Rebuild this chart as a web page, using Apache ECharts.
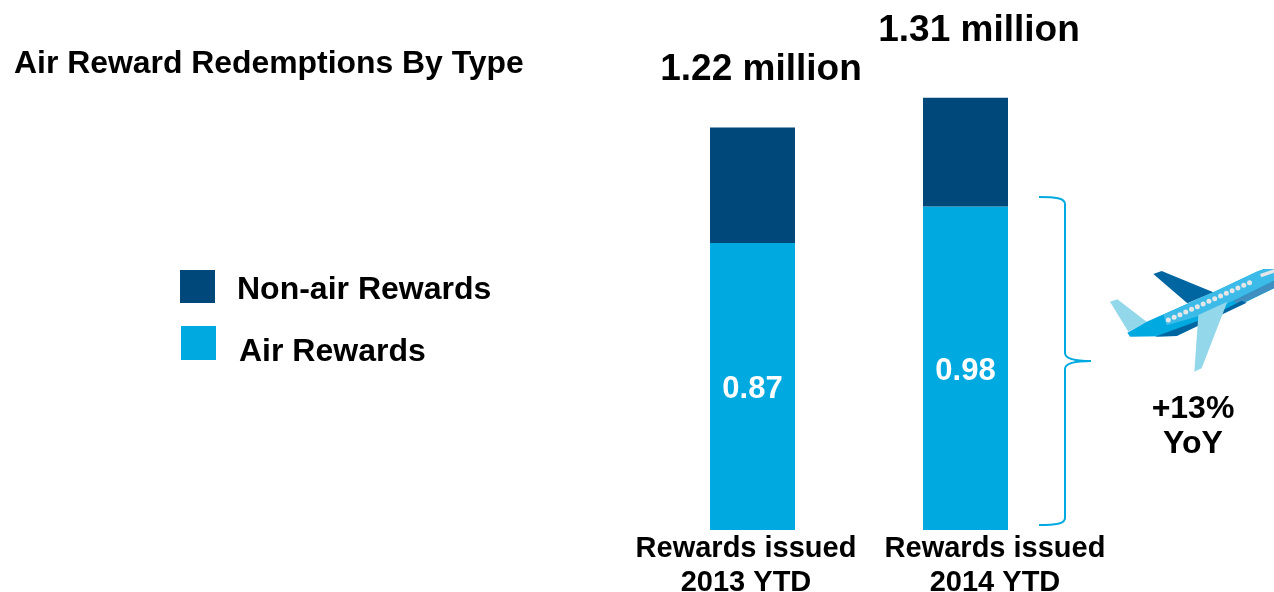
<!DOCTYPE html>
<html>
<head>
<meta charset="utf-8">
<title>Air Reward Redemptions By Type</title>
<script src="https://cdn.jsdelivr.net/npm/echarts@6/dist/echarts.min.js"></script>
<style>
  html, body { margin: 0; padding: 0; background: #fff; }
  #chart { width: 1274px; height: 592px; }
</style>
</head>
<body>
<div id="chart"></div>
<script>
// values (millions)
const categories = ['Rewards issued\n2013 YTD', 'Rewards issued\n2014 YTD'];
const airRewards = [0.87, 0.98];
const nonAirRewards = [0.35, 0.33];
const totalLabels = ['1.22 million', '1.31 million'];

const FONT = '"Liberation Sans", Arial, sans-serif';
const LIGHT = '#00a9e0';
const DARK = '#00477a';
const PALE = '#93d7ea';

// plane drawn in 3x crop coordinates, scaled down by its group
const planeWindows = [];
for (let i = 0; i < 15; i++) {
  planeWindows.push({
    type: 'circle',
    shape: { cx: 205 + i * 17.4, cy: 180 - i * 8, r: 7.5 },
    style: { fill: '#e4e6e8' }
  });
}

function poly(points, fill) {
  return { type: 'polygon', shape: { points: points }, style: { fill: fill } };
}

function braceCurve(x1, y1, cpx1, cpy1, cpx2, cpy2, x2, y2) {
  return {
    type: 'bezierCurve',
    shape: { x1: x1, y1: y1, cpx1: cpx1, cpy1: cpy1, cpx2: cpx2, cpy2: cpy2, x2: x2, y2: y2 },
    style: { fill: null, stroke: LIGHT, lineWidth: 2 }
  };
}

function braceLine(x1, y1, x2, y2) {
  return {
    type: 'line',
    shape: { x1: x1, y1: y1, x2: x2, y2: y2 },
    style: { stroke: LIGHT, lineWidth: 2 }
  };
}

// legend text sits lower than its swatch, the rich padding pushes it down
function legendText(topPad, leftPad) {
  return {
    rich: {
      a: {
        fontFamily: FONT,
        fontSize: 32,
        fontWeight: 'bold',
        color: '#000',
        padding: [topPad, 0, 0, leftPad]
      }
    }
  };
}

const chart = echarts.init(document.getElementById('chart'));

chart.setOption({
  animation: false,
  title: {
    text: 'Air Reward Redemptions By Type',
    left: 14,
    top: 48,
    padding: 0,
    textStyle: { fontFamily: FONT, fontSize: 31.9, fontWeight: 'bold', color: '#000' }
  },
  legend: [
    {
      data: ['Non-air Rewards'],
      left: 180,
      top: 270,
      padding: 0,
      icon: 'rect',
      itemWidth: 35,
      itemHeight: 33,
      itemGap: 0,
      selectedMode: false,
      formatter: '{a|{name}}',
      textStyle: legendText(8, 17)
    },
    {
      data: ['Air Rewards'],
      left: 181,
      top: 326,
      padding: 0,
      icon: 'rect',
      itemWidth: 35,
      itemHeight: 34,
      itemGap: 0,
      selectedMode: false,
      formatter: '{a|{name}}',
      textStyle: legendText(18, 18)
    }
  ],
  grid: { left: 646, width: 426, top: 2, height: 528, outerBoundsMode: 'none' },
  xAxis: {
    type: 'category',
    data: [
      { value: categories[0], textStyle: { padding: [0, 13, 0, 0] } },
      { value: categories[1], textStyle: { padding: [0, 0, 0, 59] } }
    ],
    axisLine: { show: false },
    axisTick: { show: false },
    axisLabel: {
      margin: 2,
      interval: 0,
      fontFamily: FONT,
      fontSize: 29,
      fontWeight: 'bold',
      color: '#000',
      lineHeight: 34
    }
  },
  yAxis: { type: 'value', min: 0, max: 1.6, show: false },
  series: [
    {
      name: 'Air Rewards',
      type: 'bar',
      stack: 'total',
      barWidth: 85,
      itemStyle: { color: LIGHT },
      label: {
        show: true,
        position: 'inside',
        offset: [0, 3],
        formatter: '{c}',
        fontFamily: FONT,
        fontSize: 31,
        fontWeight: 'bold',
        color: '#fff'
      },
      data: airRewards
    },
    {
      name: 'Non-air Rewards',
      type: 'bar',
      stack: 'total',
      barWidth: 85,
      itemStyle: { color: DARK },
      label: {
        show: true,
        position: 'top',
        formatter: function (p) { return totalLabels[p.dataIndex]; },
        fontFamily: FONT,
        fontSize: 37,
        fontWeight: 'bold',
        color: '#000'
      },
      data: [
        { value: nonAirRewards[0], label: { offset: [8.5, -34] } },
        { value: nonAirRewards[1], label: { offset: [13.5, -43] } }
      ]
    }
  ],
  graphic: [
    // brace
    braceCurve(1039, 197, 1055, 197, 1065, 198, 1065, 204),
    braceLine(1065, 204, 1065, 353),
    braceCurve(1065, 353, 1065, 359, 1075, 361, 1091, 361),
    braceCurve(1091, 361, 1075, 361, 1065, 363, 1065, 369),
    braceLine(1065, 369, 1065, 518),
    braceCurve(1065, 518, 1065, 524, 1055, 525, 1039, 525),
    {
      type: 'text',
      x: 1193,
      y: 426.5,
      style: {
        text: '+13%\nYoY',
        fontFamily: FONT,
        fontSize: 32,
        fontWeight: 'bold',
        lineHeight: 35,
        fill: '#000',
        align: 'center',
        verticalAlign: 'middle'
      }
    },
    // plane
    {
      type: 'group',
      x: 1100,
      y: 260,
      scaleX: 1 / 3,
      scaleY: 1 / 3,
      children: [
        poly([[30, 125], [52, 118], [140, 185], [85, 215]], PALE),
        poly([[160, 42], [185, 33], [340, 97], [262, 130]], '#0066a1'),
        poly([[82, 218], [140, 185], [340, 97], [470, 35], [490, 28], [522, 28], [522, 85], [230, 228], [90, 230]], '#00a9e0'),
        poly([[190, 164], [340, 97], [470, 35], [490, 28], [522, 28], [522, 62], [400, 122], [290, 170], [200, 196]], '#3dbbe8'),
        poly([[400, 122], [522, 62], [522, 85], [415, 135]], '#3f8fc0'),
        poly([[165, 230], [295, 182], [380, 145], [425, 122], [440, 128], [230, 228]], '#0066a1'),
        poly([[480, 42], [522, 28], [522, 38], [484, 52]], '#e4e6e8'),
        poly([[295, 165], [382, 125], [305, 325], [283, 335]], PALE)
      ].concat(planeWindows)
    }
  ]
});
</script>
</body>
</html>
